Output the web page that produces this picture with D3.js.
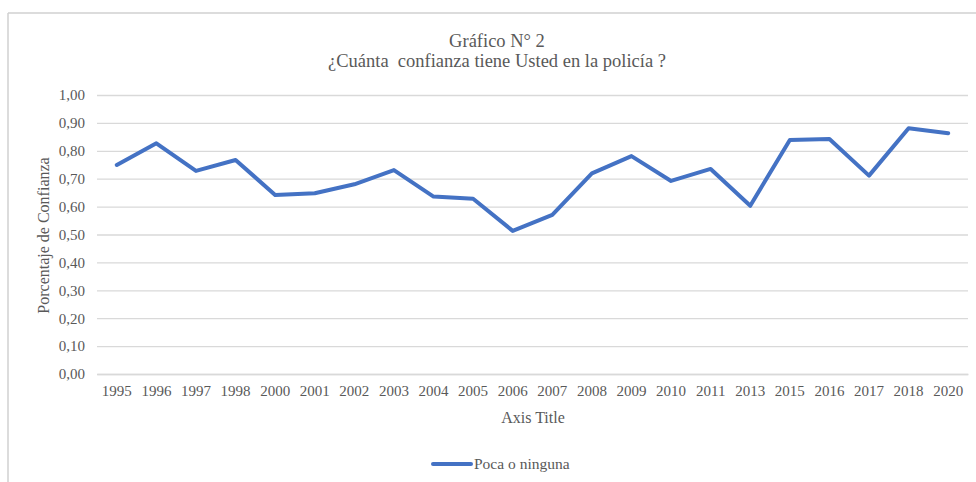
<!DOCTYPE html>
<html>
<head>
<meta charset="utf-8">
<script src="https://cdn.jsdelivr.net/npm/d3@7"></script>
<style>
  body { margin: 0; background: #fff; }
  text { font-family: "Liberation Serif", "Times New Roman", serif; fill: #595959; }
</style>
</head>
<body>
<svg id="chart" width="976" height="482"></svg>
<script>
// data
var years = ["1995", "1996", "1997", "1998", "2000", "2001", "2002", "2003", "2004", "2005", "2006",
             "2007", "2008", "2009", "2010", "2011", "2013", "2015", "2016", "2017", "2018", "2020"];
var poca = [0.749, 0.827, 0.728, 0.767, 0.642, 0.648, 0.680, 0.731, 0.636, 0.628, 0.513,
            0.570, 0.719, 0.781, 0.692, 0.735, 0.603, 0.839, 0.842, 0.711, 0.881, 0.863];
var yTicks = [0, 0.1, 0.2, 0.3, 0.4, 0.5, 0.6, 0.7, 0.8, 0.9, 1.0];

(function () {
  var svg = d3.select("#chart");
  var line_color = "#4472C4";
  var grid_color = "#d9d9d9";

  // frame (only top and left edge show)
  svg.append("line").attr("x1", 8).attr("x2", 976).attr("y1", 13).attr("y2", 13)
    .attr("stroke", "#d0d0d0").attr("stroke-width", 1.5);
  svg.append("line").attr("x1", 8).attr("x2", 8).attr("y1", 13).attr("y2", 482)
    .attr("stroke", "#d0d0d0").attr("stroke-width", 1.5);

  var pLeft = 97, pRight = 968, pTop = 95, pBottom = 374;

  var x = d3.scaleBand().domain(years).range([pLeft, pRight]);
  var y = d3.scaleLinear().domain([0, 1]).range([pBottom, pTop]);

  var fmt = function (d) { return d3.format(".2f")(d).replace(".", ","); };

  // gridlines + y labels
  var yAxis = d3.axisLeft(y).tickValues(yTicks).tickFormat(fmt)
    .tickSize(-(pRight - pLeft)).tickPadding(12);
  var gy = svg.append("g").attr("transform", "translate(" + pLeft + ",0)").call(yAxis);
  gy.select(".domain").remove();
  gy.selectAll(".tick line").attr("stroke", grid_color).attr("stroke-width", 1.3);
  gy.selectAll(".tick text").attr("font-size", 15).attr("font-family", "Liberation Serif")
    .attr("fill", "#595959").attr("x", -12);

  // x labels
  var xAxis = d3.axisBottom(x).tickSize(0).tickPadding(11);
  var gx = svg.append("g").attr("transform", "translate(0," + pBottom + ")").call(xAxis);
  gx.select(".domain").attr("stroke", grid_color).attr("stroke-width", 1.3);
  gx.selectAll(".tick text").attr("font-size", 15).attr("font-family", "Liberation Serif")
    .attr("fill", "#595959");

  // series line
  var lineGen = d3.line()
    .x(function (d, i) { return x(years[i]) + x.bandwidth() / 2; })
    .y(function (d) { return y(d); });

  svg.append("path").datum(poca)
    .attr("d", lineGen)
    .attr("fill", "none")
    .attr("stroke", line_color)
    .attr("stroke-width", 4)
    .attr("stroke-linejoin", "round")
    .attr("stroke-linecap", "round");

  // titles
  svg.append("text").attr("x", 497).attr("y", 47).attr("text-anchor", "middle")
    .attr("font-size", 18.5).text("Gráfico N° 2");
  svg.append("text").attr("x", 497).attr("y", 67).attr("text-anchor", "middle")
    .attr("font-size", 18.5).style("white-space", "pre")
    .text("¿Cuánta  confianza tiene Usted en la policía ?");

  svg.append("text").attr("x", 533).attr("y", 423).attr("text-anchor", "middle")
    .attr("font-size", 16).text("Axis Title");

  svg.append("text")
    .attr("transform", "translate(49," + ((pTop + pBottom) / 2 + 1) + ") rotate(-90)")
    .attr("text-anchor", "middle").attr("font-size", 16).text("Porcentaje de Confianza");

  // legend
  svg.append("line").attr("x1", 433).attr("x2", 471).attr("y1", 464).attr("y2", 464)
    .attr("stroke", line_color).attr("stroke-width", 4).attr("stroke-linecap", "round");
  svg.append("text").attr("x", 474).attr("y", 469).attr("font-size", 15.5).text("Poca o ninguna");
})();
</script>
</body>
</html>
